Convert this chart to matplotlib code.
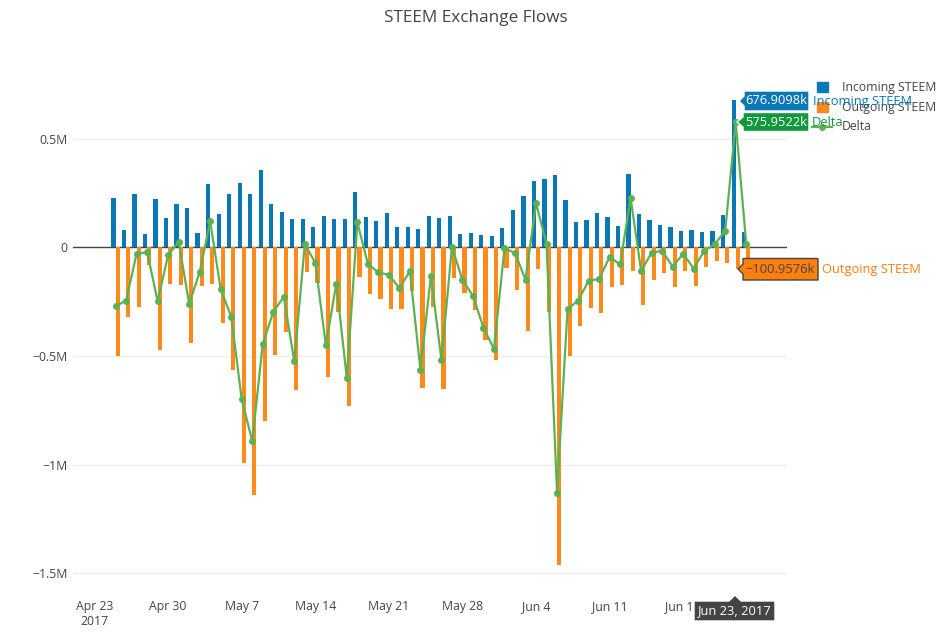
import matplotlib
matplotlib.use("Agg")
import matplotlib.pyplot as plt
import matplotlib.dates as mdates
from matplotlib.patches import Polygon, Rectangle
from matplotlib.lines import Line2D
import numpy as np
import datetime as dt

plt.rcParams['font.family'] = ['Open Sans', 'DejaVu Sans']

# ---------------- data (thousands of STEEM) ----------------
start_date = "2017-04-25"
incoming_k = [229, 78, 245, 59, 224, 134, 200, 180, 66, 290, 155, 245,
              294, 247, 354, 198, 162, 130, 130, 94, 145, 130, 128, 254,
              140, 120, 158, 94, 93, 84, 145, 133, 143, 59, 64, 55, 53,
              91, 172, 238, 305, 315, 334, 216, 116, 125, 157, 139, 96,
              336, 155, 124, 104, 92, 77, 80, 72, 75, 149, 676.9098, 71]
outgoing_k = [-500, -323, -274, -82, -471, -169, -175, -440, -180, -171, -349, -564,
              -994, -1139, -799, -495, -390, -655, -116, -165, -596, -297, -731, -139,
              -216, -236, -285, -282, -203, -648, -277, -652, -142, -209, -288, -425, -521,
              -96, -198, -387, -102, -300, -1463, -501, -361, -280, -302, -184, -175,
              -109, -264, -149, -120, -181, -107, -178, -89, -61, -74, -100.9576, -56]
series_names = ["Incoming STEEM", "Outgoing STEEM", "Delta"]
ytick_vals = [-1.5e6, -1e6, -0.5e6, 0, 0.5e6]
ytick_labels = ["\u22121.5M", "\u22121M", "\u22120.5M", "0", "0.5M"]
xtick_dates = ["2017-04-23", "2017-04-30", "2017-05-07", "2017-05-14", "2017-05-21",
               "2017-05-28", "2017-06-04", "2017-06-11", "2017-06-18", "2017-06-25"]
xtick_labels = ["Apr 23\n2017", "Apr 30", "May 7", "May 14", "May 21",
                "May 28", "Jun 4", "Jun 11", "Jun 18", "Jun 25"]

incoming = np.array(incoming_k) * 1000
outgoing = np.array(outgoing_k) * 1000
delta = incoming + outgoing
d0 = dt.datetime.strptime(start_date, "%Y-%m-%d")
dates = [d0 + dt.timedelta(days=i) for i in range(len(incoming))]
xd = mdates.date2num(dates)

# ---------------- styling ----------------
W, H = 953, 640
C_IN = '#0a78b6'
C_OUT = '#ff8a1c'
C_DELTA = '#5db152'
C_TXT = '#444444'

fig = plt.figure(figsize=(W / 100, H / 100), dpi=100)
left, right, top, bottom = 73, 787, 77, 590
ax = fig.add_axes([left / W, 1 - bottom / H, (right - left) / W, (bottom - top) / H])

ax.bar(xd - 0.2, incoming, width=0.4, color=C_IN, zorder=3)
ax.bar(xd + 0.2, outgoing, width=0.4, color=C_OUT, zorder=3)
ax.plot(xd, delta, color=C_DELTA, lw=1.6, marker='o', ms=4, zorder=4)

ref = mdates.date2num(dt.datetime(2017, 4, 23))
ax.set_xlim(ref - 2.055, ref + 65.88)
ax.set_ylim(-1.5773e6, 0.7837e6)

ax.set_yticks(ytick_vals)
ax.set_yticklabels(ytick_labels)
ax.set_xticks(mdates.date2num([dt.datetime.strptime(s, "%Y-%m-%d") for s in xtick_dates]))
ax.set_xticklabels(xtick_labels, linespacing=1.25)
ax.tick_params(axis='both', length=0, labelsize=8.8, colors=C_TXT)
ax.tick_params(axis='x', pad=7)
ax.tick_params(axis='y', pad=4)
for s in ax.spines.values():
    s.set_visible(False)
ax.grid(axis='y', color='#eeeeee', lw=1, zorder=0)
ax.axhline(0, color=C_TXT, lw=1, zorder=2)

fig.text(476 / W, 1 - 18 / H, "STEEM Exchange Flows", ha='center', va='center',
         fontsize=12.3, color=C_TXT)

def P(x, y):
    return (x / W, 1 - y / H)

# ---------------- legend ----------------
leg_y = [87, 107, 127]
fig.add_artist(Rectangle(P(817, 92), 11 / W, 10 / H, transform=fig.transFigure,
                         color=C_IN, zorder=5))
fig.add_artist(Rectangle(P(817, 112), 11 / W, 10 / H, transform=fig.transFigure,
                         color=C_OUT, zorder=5))
fig.add_artist(Line2D([812 / W, 832 / W], [1 - 127 / H] * 2, transform=fig.transFigure,
                      color=C_DELTA, lw=1.6, marker=None, zorder=5))
fig.add_artist(Line2D([822 / W], [1 - 127 / H], transform=fig.transFigure,
                      color=C_DELTA, marker='o', ms=4, zorder=5))
for name, yy in zip(series_names, leg_y):
    fig.text(842 / W, 1 - yy / H, name, ha='left', va='center', fontsize=8.8,
             color=C_TXT, zorder=5)

# ---------------- hover labels ----------------
def hover(tip, x0, x1, y0, y1, face, edge, text, tcolor, name=None, ncolor=None, nx=None):
    tx, ty = tip
    pts = [P(tx, ty), P(x0, ty - 5), P(x0, y0), P(x1, y0), P(x1, y1), P(x0, y1), P(x0, ty + 5)]
    fig.add_artist(Polygon(pts, closed=True, transform=fig.transFigure, facecolor=face,
                           edgecolor=edge, lw=1, zorder=10))
    fig.text(((x0 + x1) / 2) / W, 1 - ((y0 + y1) / 2) / H, text, ha='center', va='center',
             fontsize=9.3, color=tcolor, zorder=11)
    if name:
        fig.text(nx / W, 1 - ((y0 + y1) / 2) / H, name, ha='left', va='center',
                 fontsize=9.3, color=ncolor, zorder=11)

hover((739, 101), 744, 809, 91, 111, C_IN, 'white', "676.9098k", 'white',
      "Incoming STEEM", C_IN, 813)
hover((737, 122), 743, 809, 112.5, 131.5, '#10993a', 'white', "575.9522k", 'white',
      "Delta", '#10993a', 812)
hover((738, 269), 743, 818, 258.5, 280, '#ff7f0e', C_TXT, "\u2212100.9576k", C_TXT,
      "Outgoing STEEM", '#ff7f0e', 822)

# x hover label
xpts = [P(735, 595), P(741, 601), P(775, 601), P(775, 621), P(694, 621), P(694, 601), P(729, 601)]
fig.add_artist(Polygon(xpts, closed=True, transform=fig.transFigure, facecolor=C_TXT,
                       edgecolor='white', lw=1, zorder=10))
fig.text(734.5 / W, 1 - 611 / H, "Jun 23, 2017", ha='center', va='center',
         fontsize=9.3, color='white', zorder=11)

fig.savefig("out.png", dpi=100)
